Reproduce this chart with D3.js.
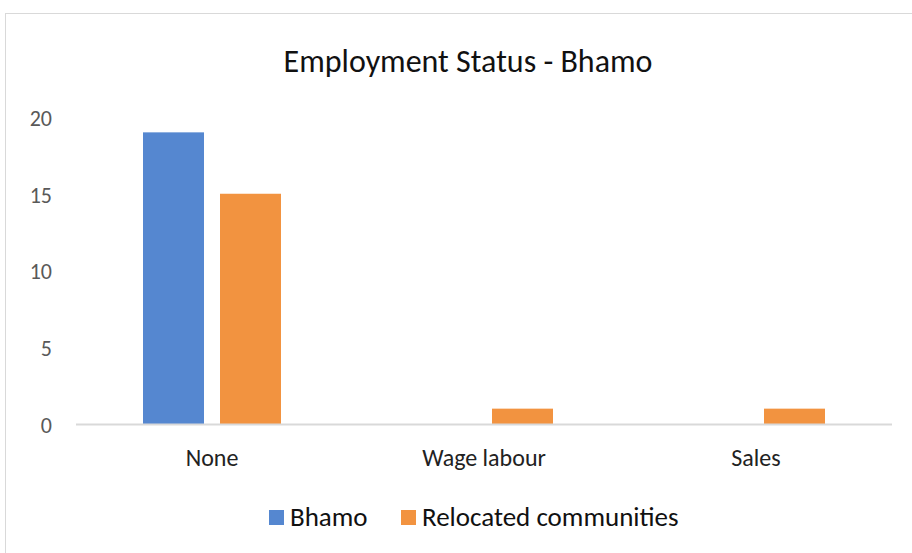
<!DOCTYPE html>
<meta charset="utf-8">
<style>
body { margin: 0; background: #fff; }
svg text { font-family: Carlito, Calibri, "Liberation Sans Narrow", "Open Sans", sans-serif; }
.tick text { fill: #595959; font-size: 22px; }
.xlab { fill: #222; font-size: 24px; }
.title { fill: #111; font-size: 32px; }
.legend text { fill: #111; font-size: 27px; }
</style>
<div id="chart"></div>
<script src="https://cdn.jsdelivr.net/npm/d3@7"></script>
<script>
var categories = ["None", "Wage labour", "Sales"];
var seriesNames = ["Bhamo", "Relocated communities"];
var bhamo = [19, 0, 0];
var relocated = [15, 1, 1];
var yTicks = [0, 5, 10, 15, 20];
var colors = ["#5587d0", "#f29340"];

var W = 912, H = 553;
var margin = {top: 117, right: 20, bottom: 129, left: 76};
var width = 892 - margin.left, height = 424 - margin.top;

var svg = d3.select("#chart").append("svg")
    .attr("width", W)
    .attr("height", H);

// outer chart border
svg.append("rect")
    .attr("x", 5.5).attr("y", 13.5)
    .attr("width", W).attr("height", H)
    .attr("fill", "none")
    .attr("stroke", "#d9d9d9");

svg.append("text")
    .attr("class", "title")
    .attr("x", 468).attr("y", 72)
    .attr("text-anchor", "middle")
    .text("Employment Status - Bhamo");

var g = svg.append("g").attr("transform", "translate(" + margin.left + "," + margin.top + ")");

var x = d3.scaleBand().domain(categories).range([0, width]);
var y = d3.scaleLinear().domain([0, 20]).range([height, 0]);

var data = categories.map(function(c, i) { return {cat: c, vals: [bhamo[i], relocated[i]]}; });

var barW = 61, gap = 16;
var groups = g.selectAll(".grp").data(data).enter().append("g")
    .attr("transform", function(d) { return "translate(" + (x(d.cat) + x.bandwidth() / 2) + ",0)"; });

groups.selectAll("rect")
    .data(function(d) { return d.vals; })
    .enter().append("rect")
    .attr("x", function(d, i) { return i == 0 ? -barW - gap / 2 : gap / 2; })
    .attr("y", function(d) { return y(d); })
    .attr("width", barW)
    .attr("height", function(d) { return height - y(d); })
    .attr("fill", function(d, i) { return colors[i]; });

// y axis labels (no line)
var yAxis = g.append("g")
    .call(d3.axisLeft(y).tickValues(yTicks).tickSize(0).tickPadding(24));
yAxis.attr("font-family", null).attr("font-size", null);
yAxis.select(".domain").remove();
yAxis.selectAll(".tick text").attr("dy", "0.38em");

// baseline
g.append("line")
    .attr("x1", 0).attr("x2", width)
    .attr("y1", height + 0.5).attr("y2", height + 0.5)
    .attr("stroke", "#d9d9d9").attr("stroke-width", 2);

g.selectAll(".xlab").data(categories).enter().append("text")
    .attr("class", "xlab")
    .attr("x", function(d) { return x(d) + x.bandwidth() / 2; })
    .attr("y", height + 42)
    .attr("text-anchor", "middle")
    .text(function(d) { return d; });

// legend
var legend = svg.append("g").attr("class", "legend");
var legX = [269, 401];
seriesNames.forEach(function(n, i) {
  legend.append("rect")
      .attr("x", legX[i]).attr("y", 510)
      .attr("width", 15).attr("height", 15)
      .attr("fill", colors[i]);
  legend.append("text")
      .attr("x", legX[i] + 21).attr("y", 526)
      .text(n);
});
</script>
